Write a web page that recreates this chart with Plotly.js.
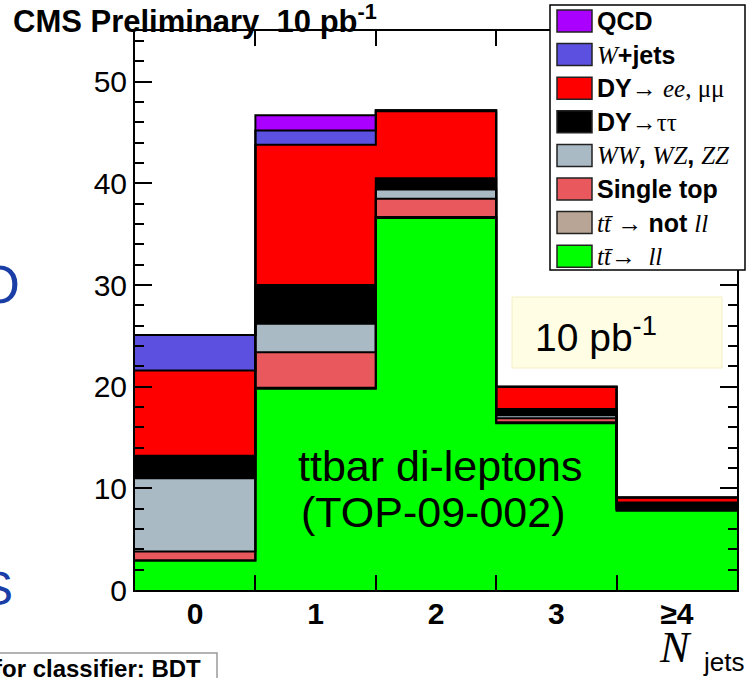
<!DOCTYPE html>
<html>
<head>
<meta charset="utf-8">
<script src="https://cdn.plot.ly/plotly-3.0.1.min.js"></script>
<style>
  html, body { margin: 0; padding: 0; background: #ffffff; }
  #chart { width: 754px; height: 678px; }
</style>
</head>
<body>
<div id="chart"></div>
<script>
// Jet-multiplicity bins
const categories = ['0', '1', '2', '3', '≥4'];
const binCenters = [0, 1, 2, 3, 4];

// Expected events per bin, stacked from the bottom up
const ttDilepton   = [2.9, 19.8, 36.6, 16.4, 7.8];
const ttNotDilep   = [0.0, 0.1, 0.1, 0.1, 0.1];
const singleTop    = [0.9, 3.5, 1.8, 0.4, 0.1];
const diboson      = [7.2, 2.8, 0.9, 0.3, 0.0];
const dyTauTau     = [2.2, 3.8, 1.1, 0.6, 0.6];
const dyEeMuMu     = [8.4, 13.8, 6.6, 2.2, 0.5];
const wJets        = [3.5, 1.4, 0.1, 0.0, 0.0];
const qcd          = [0.0, 1.5, 0.0, 0.0, 0.0];

// Series in stacking order (bottom first)
const seriesValues = [ttDilepton, ttNotDilep, singleTop, diboson, dyTauTau, dyEeMuMu, wJets, qcd];
const seriesNames = ['tt→ll', 'tt→not ll', 'Single top', 'WW, WZ, ZZ', 'DY→ττ', 'DY→ee, μμ', 'W+jets', 'QCD'];
const SERIF = 'Liberation Serif';
const sf = (s) => '<span style="font-family:' + SERIF + '">' + s + '</span>';
const legendLabels = [
  sf('<i>tt\u0304</i>→  <i>ll</i>'),
  sf('<i>tt\u0304</i> → ') + '<b>not</b> ' + sf('<i>ll</i>'),
  '<b>Single top</b>',
  sf('<i>WW</i>') + '<b>,</b> ' + sf('<i>WZ</i>') + '<b>,</b> ' + sf('<i>ZZ</i>'),
  '<b>DY</b>' + sf('→ττ'),
  '<b>DY</b>' + sf('→ <i>ee</i>, μμ'),
  sf('<i>W</i>') + '<b>+jets</b>',
  '<b>QCD</b>'
];
const seriesColors = ['#00ff00', '#b8a595', '#e8585d', '#a9bac5', '#000000', '#ff0000', '#5b50e0', '#aa00ff'];

// Plot-area geometry in page pixels
const L = 135, R = 737, T = 31, B = 590, PAGE_W = 754, PAGE_H = 678;
const xp = (px) => (px - L) / (R - L);
const yp = (py) => (B - py) / (B - T);

const traces = [];
// Filled stacked bars
seriesValues.forEach((vals, k) => {
  traces.push({
    type: 'bar', x: binCenters, y: vals, width: 1, name: seriesNames[k],
    marker: { color: seriesColors[k], line: { width: 0 } },
    hoverinfo: 'skip', showlegend: false
  });
});
// Step outlines on top of each cumulative layer
const edges = binCenters.map(c => c - 0.5).concat([binCenters[binCenters.length - 1] + 0.5]);
let cum = binCenters.map(() => 0);
seriesValues.forEach((vals) => {
  cum = cum.map((c, i) => c + vals[i]);
  traces.push({
    type: 'scatter', mode: 'lines', x: edges, y: cum.concat([cum[cum.length - 1]]),
    line: { shape: 'hv', color: '#000000', width: 2 },
    hoverinfo: 'skip', showlegend: false
  });
});

const shapes = [];
const annotations = [];

// "10 pb-1" note box
shapes.push({ type: 'rect', xref: 'paper', yref: 'paper', layer: 'above',
  x0: xp(512), x1: xp(722), y0: yp(368), y1: yp(297),
  fillcolor: '#fffde3', line: { color: '#f4efc4', width: 1 } });
annotations.push({ xref: 'paper', yref: 'paper', x: xp(533), y: yp(334), xanchor: 'left', yanchor: 'middle',
  text: '10 pb<sup>-1</sup>', showarrow: false, font: { family: 'Liberation Sans', size: 39, color: '#000000' } });

// Channel label
annotations.push({ xref: 'paper', yref: 'paper', x: xp(440), y: yp(466), xanchor: 'center', yanchor: 'middle',
  text: 'ttbar di-leptons', showarrow: false, font: { family: 'Liberation Sans', size: 43, color: '#000000' } });
annotations.push({ xref: 'paper', yref: 'paper', x: xp(433), y: yp(512), xanchor: 'center', yanchor: 'middle',
  text: '(TOP-09-002)', showarrow: false, font: { family: 'Liberation Sans', size: 43, color: '#000000' } });

// Legend box with one row per series, top of stack first
shapes.push({ type: 'rect', xref: 'paper', yref: 'paper', layer: 'above',
  x0: xp(550), x1: xp(745), y0: yp(270), y1: yp(5),
  fillcolor: '#ffffff', line: { color: '#000000', width: 1.5 } });
const nSeries = seriesValues.length;
for (let r = 0; r < nSeries; r++) {
  const k = nSeries - 1 - r;
  const cy = 21 + 33.6 * r;
  shapes.push({ type: 'rect', xref: 'paper', yref: 'paper', layer: 'above',
    x0: xp(557), x1: xp(592), y0: yp(cy + 11), y1: yp(cy - 11),
    fillcolor: seriesColors[k], line: { color: '#222222', width: 1.5 } });
  annotations.push({ xref: 'paper', yref: 'paper', x: xp(595), y: yp(cy), xanchor: 'left', yanchor: 'middle',
    text: legendLabels[k], showarrow: false, font: { family: 'Liberation Sans', size: 25, color: '#000000' } });
}

// Axis title N_jets
annotations.push({ xref: 'paper', yref: 'paper', x: xp(675), y: yp(647), xanchor: 'center', yanchor: 'middle',
  text: '<i>N</i>', showarrow: false, font: { family: SERIF, size: 44, color: '#000000' } });
annotations.push({ xref: 'paper', yref: 'paper', x: xp(723), y: yp(662), xanchor: 'center', yanchor: 'middle',
  text: 'jets', showarrow: false, font: { family: 'Liberation Sans', size: 26, color: '#000000' } });

// Slide text around the figure
annotations.push({ xref: 'paper', yref: 'paper', x: xp(22), y: yp(284), xanchor: 'right', yanchor: 'middle',
  text: 'O', showarrow: false, font: { family: 'Liberation Sans', size: 54, color: '#1a3da6' } });
annotations.push({ xref: 'paper', yref: 'paper', x: xp(15), y: yp(588), xanchor: 'right', yanchor: 'middle',
  text: 'S', showarrow: false, font: { family: 'Liberation Sans', size: 48, color: '#1a3da6' } });
shapes.push({ type: 'rect', xref: 'paper', yref: 'paper', layer: 'above',
  x0: xp(-10), x1: xp(217), y0: yp(700), y1: yp(653),
  fillcolor: '#ffffff', line: { color: '#9a9a9a', width: 1.5 } });
annotations.push({ xref: 'paper', yref: 'paper', x: xp(203), y: yp(668), xanchor: 'right', yanchor: 'middle',
  text: '<b>for classifier: BDT</b>', showarrow: false, font: { family: 'Liberation Sans', size: 24, color: '#000000' } });

const tickFont = { family: 'Liberation Sans', size: 30, color: '#000000' };

const layout = {
  width: PAGE_W, height: PAGE_H,
  margin: { l: L, r: PAGE_W - R, t: T, b: PAGE_H - B, pad: 0 },
  paper_bgcolor: '#ffffff', plot_bgcolor: '#ffffff',
  barmode: 'stack', bargap: 0,
  showlegend: false,
  title: {
    text: '<b>CMS Preliminary\u00a0\u00a010 pb<sup>-1</sup></b>',
    font: { family: 'Liberation Sans', size: 31, color: '#000000' },
    xref: 'container', yref: 'container',
    x: 13 / PAGE_W, xanchor: 'left', y: 1 - 21 / PAGE_H, yanchor: 'middle'
  },
  xaxis: {
    range: [-0.5, 4.5], fixedrange: true,
    tickmode: 'array', tickvals: binCenters, ticktext: categories.map(c => '<b>' + c + '</b>'),
    ticks: 'inside', ticklen: 0, tickfont: tickFont, ticklabelstandoff: -4,
    minor: { tickmode: 'linear', tick0: -0.5, dtick: 1, ticks: 'inside', ticklen: 15, tickwidth: 2, tickcolor: '#000000', showgrid: false },
    showline: true, linewidth: 2, linecolor: '#000000', mirror: 'ticks',
    showgrid: false, zeroline: false
  },
  yaxis: {
    range: [0, 55], fixedrange: true,
    tickmode: 'linear', tick0: 0, dtick: 10,
    ticks: 'inside', ticklen: 17, tickwidth: 2, tickcolor: '#000000',
    tickfont: tickFont, ticklabelstandoff: 0,
    minor: { tickmode: 'linear', tick0: 0, dtick: 2, ticks: 'inside', ticklen: 9, tickwidth: 2, tickcolor: '#000000', showgrid: false },
    showline: true, linewidth: 2, linecolor: '#000000', mirror: 'ticks',
    showgrid: false, zeroline: false
  },
  shapes: shapes,
  annotations: annotations
};

Plotly.newPlot('chart', traces, layout, { staticPlot: true, displayModeBar: false });
</script>
</body>
</html>
